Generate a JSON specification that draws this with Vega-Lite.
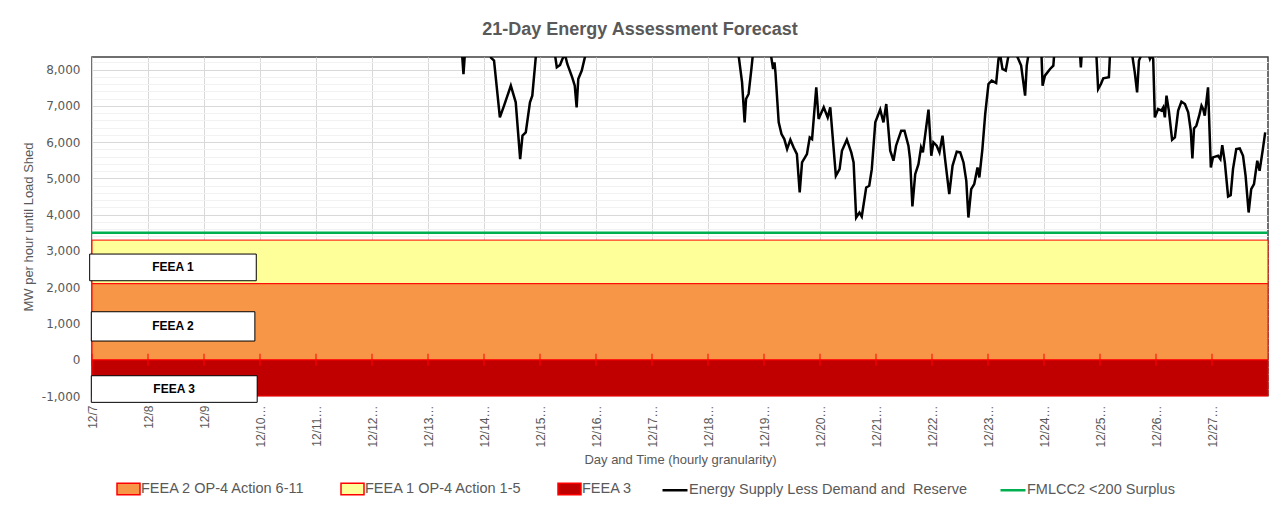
{
  "$schema": "https://vega.github.io/schema/vega-lite/v6.json",
  "autosize": "none",
  "padding": {"left": 92, "top": 57, "right": 11, "bottom": 118},
  "width": 1176,
  "height": 339,
  "background": "white",
  "title": {"text": "21-Day Energy Assessment Forecast", "fontSize": 18, "fontWeight": "bold", "color": "#595959", "font": "Liberation Sans", "anchor": "middle", "dx": -40, "offset": 17},
  "config": {"view": {"stroke": "#404040", "strokeWidth": 1.5}, "font": "Liberation Sans"},
  "datasets": {
    "bands": [
      {"zone": "FEEA 3", "start": 0, "end": 504, "low": -1000, "high": 0},
      {"zone": "FEEA 2 OP-4 Action 6-11", "start": 0, "end": 504, "low": 0, "high": 2100},
      {"zone": "FEEA 1 OP-4 Action 1-5", "start": 0, "end": 504, "low": 2100, "high": 3300}
    ],
    "dayticks": [
      {"hour": 0, "value": 0}, {"hour": 24, "value": 0}, {"hour": 48, "value": 0}, {"hour": 72, "value": 0},
      {"hour": 96, "value": 0}, {"hour": 120, "value": 0}, {"hour": 144, "value": 0}, {"hour": 168, "value": 0},
      {"hour": 192, "value": 0}, {"hour": 216, "value": 0}, {"hour": 240, "value": 0}, {"hour": 264, "value": 0},
      {"hour": 288, "value": 0}, {"hour": 312, "value": 0}, {"hour": 336, "value": 0}, {"hour": 360, "value": 0},
      {"hour": 384, "value": 0}, {"hour": 408, "value": 0}, {"hour": 432, "value": 0}, {"hour": 456, "value": 0},
      {"hour": 480, "value": 0}
    ],
    "boxes": [
      {"label": "FEEA 1", "start": -1, "end": 70.4, "low": 2179, "high": 2915, "mid_hour": 34.7, "mid_value": 2547},
      {"label": "FEEA 2", "start": -0.3, "end": 69.8, "low": 516, "high": 1324, "mid_hour": 34.7, "mid_value": 920},
      {"label": "FEEA 3", "start": -0.3, "end": 70.8, "low": -1175, "high": -441, "mid_hour": 35.2, "mid_value": -808}
    ],
    "threshold": [
      {"hour": 0, "value": 3500},
      {"hour": 504, "value": 3500}
    ],
    "supply": [
      {"hour": 0, "value": 10500}, {"hour": 24, "value": 11200}, {"hour": 48, "value": 10800}, {"hour": 72, "value": 11500},
      {"hour": 96, "value": 10900}, {"hour": 120, "value": 11300}, {"hour": 144, "value": 10200}, {"hour": 156, "value": 9500},
      {"hour": 158.2, "value": 8800}, {"hour": 159.2, "value": 7880}, {"hour": 160.2, "value": 8800}, {"hour": 164, "value": 9800},
      {"hour": 168, "value": 9600}, {"hour": 170, "value": 8900}, {"hour": 171, "value": 8330}, {"hour": 172.3, "value": 8250},
      {"hour": 174.8, "value": 6685}, {"hour": 176.6, "value": 7008}, {"hour": 179.5, "value": 7560}, {"hour": 181.6, "value": 7100},
      {"hour": 183.5, "value": 5533}, {"hour": 184.5, "value": 6180}, {"hour": 185.9, "value": 6270}, {"hour": 187.7, "value": 7100},
      {"hour": 188.7, "value": 7285}, {"hour": 190.2, "value": 8350}, {"hour": 191.5, "value": 9500}, {"hour": 195, "value": 9800},
      {"hour": 198, "value": 8600}, {"hour": 199.2, "value": 8066}, {"hour": 200.6, "value": 8130}, {"hour": 201.6, "value": 8295},
      {"hour": 202.7, "value": 8420}, {"hour": 203.7, "value": 8157}, {"hour": 205.8, "value": 7790}, {"hour": 206.9, "value": 7560},
      {"hour": 207.7, "value": 6960}, {"hour": 208.4, "value": 7740}, {"hour": 209.9, "value": 7975}, {"hour": 211.3, "value": 8360},
      {"hour": 212.5, "value": 9300}, {"hour": 220, "value": 10500}, {"hour": 240, "value": 11000}, {"hour": 260, "value": 10200},
      {"hour": 272, "value": 9800}, {"hour": 276.5, "value": 8800}, {"hour": 277, "value": 8450}, {"hour": 278.6, "value": 7650},
      {"hour": 279.7, "value": 6547}, {"hour": 280.3, "value": 7190}, {"hour": 281.4, "value": 7330}, {"hour": 282.6, "value": 8020},
      {"hour": 283.2, "value": 8400}, {"hour": 284.5, "value": 9400}, {"hour": 287, "value": 9600}, {"hour": 290.5, "value": 8600},
      {"hour": 291.9, "value": 8020}, {"hour": 292.5, "value": 8200}, {"hour": 292.9, "value": 7930}, {"hour": 294.3, "value": 6547},
      {"hour": 295.5, "value": 6225}, {"hour": 296.7, "value": 6086}, {"hour": 297.9, "value": 5810}, {"hour": 299.3, "value": 6070},
      {"hour": 300.7, "value": 5856}, {"hour": 302.1, "value": 5671}, {"hour": 303.3, "value": 4613}, {"hour": 304.3, "value": 5442},
      {"hour": 306.4, "value": 5671}, {"hour": 307.6, "value": 6133}, {"hour": 308.6, "value": 6086}, {"hour": 310.4, "value": 7514},
      {"hour": 311.4, "value": 6640}, {"hour": 313.6, "value": 6961}, {"hour": 315.3, "value": 6685}, {"hour": 316.4, "value": 6961},
      {"hour": 318.8, "value": 5074}, {"hour": 320.4, "value": 5257}, {"hour": 321.4, "value": 5765}, {"hour": 323.5, "value": 6069},
      {"hour": 325.4, "value": 5718}, {"hour": 326.4, "value": 5442}, {"hour": 327.5, "value": 3923}, {"hour": 328.9, "value": 4060},
      {"hour": 329.9, "value": 3950}, {"hour": 331.8, "value": 4751}, {"hour": 333.1, "value": 4798}, {"hour": 334.2, "value": 5257},
      {"hour": 335.7, "value": 6547}, {"hour": 337.8, "value": 6898}, {"hour": 339.2, "value": 6547}, {"hour": 340.4, "value": 7053},
      {"hour": 342.1, "value": 5765}, {"hour": 343.5, "value": 5489}, {"hour": 344.6, "value": 5903}, {"hour": 346.8, "value": 6318},
      {"hour": 348.2, "value": 6318}, {"hour": 349.9, "value": 5903}, {"hour": 350.6, "value": 5534}, {"hour": 351.6, "value": 4227},
      {"hour": 352.8, "value": 5119}, {"hour": 354.2, "value": 5396}, {"hour": 355.3, "value": 5856}, {"hour": 356.1, "value": 5718},
      {"hour": 358.5, "value": 6900}, {"hour": 359.7, "value": 5627}, {"hour": 360.6, "value": 5994}, {"hour": 362.0, "value": 5903},
      {"hour": 363.2, "value": 5718}, {"hour": 364.5, "value": 6180}, {"hour": 365.6, "value": 5533}, {"hour": 367.4, "value": 4567},
      {"hour": 368.8, "value": 5350}, {"hour": 370.6, "value": 5737}, {"hour": 372.1, "value": 5718}, {"hour": 373.5, "value": 5442},
      {"hour": 374.7, "value": 4936}, {"hour": 375.6, "value": 3923}, {"hour": 376.8, "value": 4705}, {"hour": 378.1, "value": 4843},
      {"hour": 379.5, "value": 5304}, {"hour": 380.3, "value": 5028}, {"hour": 381.6, "value": 5810}, {"hour": 382.8, "value": 6776},
      {"hour": 384.2, "value": 7605}, {"hour": 385.6, "value": 7700}, {"hour": 387.5, "value": 7633}, {"hour": 388.5, "value": 8296},
      {"hour": 389.2, "value": 8420}, {"hour": 390.2, "value": 8020}, {"hour": 391.6, "value": 7975}, {"hour": 392.8, "value": 8400},
      {"hour": 394, "value": 8700}, {"hour": 396.3, "value": 8400}, {"hour": 398.2, "value": 8113}, {"hour": 399.9, "value": 7284},
      {"hour": 400.6, "value": 8113}, {"hour": 401.3, "value": 8400}, {"hour": 403, "value": 9200}, {"hour": 406.9, "value": 8450},
      {"hour": 407.4, "value": 7560}, {"hour": 408.4, "value": 7836}, {"hour": 410.6, "value": 8020}, {"hour": 412, "value": 8113},
      {"hour": 412.4, "value": 8450}, {"hour": 414, "value": 9300}, {"hour": 420, "value": 9500}, {"hour": 423.2, "value": 8650},
      {"hour": 423.8, "value": 8066}, {"hour": 424.4, "value": 8650}, {"hour": 427, "value": 9500}, {"hour": 430.3, "value": 8600},
      {"hour": 431.2, "value": 7467}, {"hour": 432.4, "value": 7605}, {"hour": 433.4, "value": 7762}, {"hour": 435.8, "value": 7790},
      {"hour": 436.3, "value": 8450}, {"hour": 438, "value": 9400}, {"hour": 443, "value": 9300}, {"hour": 445.7, "value": 8450},
      {"hour": 446.9, "value": 7928}, {"hour": 447.9, "value": 7376}, {"hour": 448.7, "value": 8250}, {"hour": 449.8, "value": 8420},
      {"hour": 451.5, "value": 8700}, {"hour": 453.4, "value": 8296}, {"hour": 454.1, "value": 8400}, {"hour": 454.8, "value": 8296},
      {"hour": 455.5, "value": 6685}, {"hour": 456.9, "value": 6915}, {"hour": 458.3, "value": 6870}, {"hour": 459.1, "value": 6961},
      {"hour": 459.8, "value": 6685}, {"hour": 460.5, "value": 7284}, {"hour": 461.5, "value": 6870}, {"hour": 462.9, "value": 6069},
      {"hour": 464.1, "value": 6133}, {"hour": 465.5, "value": 6870}, {"hour": 466.9, "value": 7118}, {"hour": 468.4, "value": 7053},
      {"hour": 469.8, "value": 6823}, {"hour": 470.9, "value": 6318}, {"hour": 471.6, "value": 5552}, {"hour": 472.3, "value": 6381},
      {"hour": 473.3, "value": 6455}, {"hour": 474.5, "value": 6731}, {"hour": 475.5, "value": 7008}, {"hour": 476.2, "value": 6915},
      {"hour": 476.9, "value": 6731}, {"hour": 478.3, "value": 7514}, {"hour": 479.5, "value": 5304}, {"hour": 480.4, "value": 5580},
      {"hour": 482.6, "value": 5627}, {"hour": 483.6, "value": 5533}, {"hour": 484.4, "value": 5920}, {"hour": 485.5, "value": 5442},
      {"hour": 486.9, "value": 4503}, {"hour": 488.0, "value": 4539}, {"hour": 489.0, "value": 5257}, {"hour": 490.4, "value": 5810},
      {"hour": 491.9, "value": 5829}, {"hour": 493.3, "value": 5627}, {"hour": 494.4, "value": 5074}, {"hour": 495.7, "value": 4061},
      {"hour": 496.8, "value": 4705}, {"hour": 498.0, "value": 4843}, {"hour": 499.4, "value": 5489}, {"hour": 500.4, "value": 5212},
      {"hour": 501.8, "value": 5810}, {"hour": 502.8, "value": 6271}
    ]
  },
  "layer": [
    {
      "data": {"name": "bands"},
      "mark": {"type": "rect", "stroke": "#FF0000", "strokeWidth": 1},
      "encoding": {
        "x": {
          "field": "start", "type": "quantitative", "title": "Day and Time (hourly granularity)",
          "scale": {"domain": [0, 504], "nice": false, "zero": false},
          "axis": {
            "values": [0, 24, 48, 72, 96, 120, 144, 168, 192, 216, 240, 264, 288, 312, 336, 360, 384, 408, 432, 456, 480],
            "tickCount": 100,
            "labelExpr": "'12/' + (7 + datum.value / 24) + (datum.value >= 72 ? '…' : '')",
            "labelAngle": 270, "labelFontSize": 12, "labelColor": "#595959", "labelFont": "Liberation Sans",
            "labelPadding": 9, "labelOverlap": false, "ticks": false, "domain": false, "grid": true, "gridColor": "#d9d9d9",
            "titleFontSize": 13, "titleFontWeight": "normal", "titleColor": "#595959", "titlePadding": 6, "titleFont": "Liberation Sans"
          }
        },
        "x2": {"field": "end"},
        "y": {
          "field": "low", "type": "quantitative", "title": "MW per hour until Load Shed",
          "scale": {"domain": [-1000, 8350], "nice": false, "zero": false},
          "axis": {
            "values": [-1000, -800, -600, -400, -200, 0, 200, 400, 600, 800, 1000, 1200, 1400, 1600, 1800, 2000, 2200, 2400, 2600, 2800, 3000, 3200, 3400, 3600, 3800, 4000, 4200, 4400, 4600, 4800, 5000, 5200, 5400, 5600, 5800, 6000, 6200, 6400, 6600, 6800, 7000, 7200, 7400, 7600, 7800, 8000, 8200],
            "tickCount": 100,
            "labelExpr": "datum.value % 1000 === 0 ? (datum.value < 0 ? '-' + format(-datum.value, ',') : format(datum.value, ',')) : ''",
            "labelOverlap": false, "ticks": false, "domain": false, "grid": true,
            "gridColor": {"condition": {"test": "datum.value % 1000 === 0", "value": "#d9d9d9"}, "value": "#f2f2f2"},
            "labelFont": "DejaVu Sans", "labelFontSize": 12, "labelColor": "#595959", "labelPadding": 12,
            "titleFontSize": 13, "titleFontWeight": "normal", "titleColor": "#595959", "titlePadding": 6, "titleFont": "Liberation Sans"
          }
        },
        "y2": {"field": "high"},
        "fill": {
          "field": "zone", "type": "nominal",
          "scale": {"domain": ["FEEA 2 OP-4 Action 6-11", "FEEA 1 OP-4 Action 1-5", "FEEA 3"], "range": ["#F79646", "#FFFF99", "#C00000"]},
          "legend": {
            "title": null, "orient": "none", "legendX": 24, "legendY": 419, "direction": "horizontal",
            "symbolType": "M-1,-0.5H1V0.5H-1Z", "symbolSize": 529, "symbolStrokeColor": "#FF0000", "symbolStrokeWidth": 1.5,
            "labelFontSize": 14.5, "labelColor": "#595959", "labelFont": "Liberation Sans", "columnPadding": 32, "labelOffset": 0, "labelLimit": 400
          }
        }
      }
    },
    {
      "data": {"name": "dayticks"},
      "mark": {"type": "tick", "orient": "vertical", "color": "#FF0000", "size": 12, "thickness": 1, "opacity": 1},
      "encoding": {
        "x": {"field": "hour", "type": "quantitative", "title": "Day and Time (hourly granularity)"},
        "y": {"field": "value", "type": "quantitative", "title": "MW per hour until Load Shed"}
      }
    },
    {
      "data": {"name": "threshold"},
      "mark": {"type": "line", "strokeWidth": 2.5},
      "encoding": {
        "x": {"field": "hour", "type": "quantitative", "title": "Day and Time (hourly granularity)"},
        "y": {"field": "value", "type": "quantitative", "title": "MW per hour until Load Shed"},
        "stroke": {
          "datum": "FMLCC2 <200 Surplus",
          "scale": {"domain": ["Energy Supply Less Demand and\u00a0 Reserve", "FMLCC2 <200 Surplus"], "range": ["#000000", "#00B050"]},
          "legend": {
            "title": null, "orient": "none", "legendX": 569, "legendY": 419, "direction": "horizontal",
            "symbolType": "stroke", "symbolSize": 625, "symbolStrokeWidth": 2.5,
            "labelFontSize": 14.5, "labelColor": "#595959", "labelFont": "Liberation Sans", "columnPadding": 27, "labelOffset": 0, "labelLimit": 400
          }
        }
      }
    },
    {
      "data": {"name": "supply"},
      "mark": {"type": "line", "strokeWidth": 2.5, "clip": true},
      "encoding": {
        "x": {"field": "hour", "type": "quantitative", "title": "Day and Time (hourly granularity)"},
        "y": {"field": "value", "type": "quantitative", "title": "MW per hour until Load Shed"},
        "stroke": {"datum": "Energy Supply Less Demand and\u00a0 Reserve"}
      }
    },
    {
      "data": {"name": "boxes"},
      "mark": {"type": "rect", "fill": "white", "stroke": "black", "strokeWidth": 1},
      "encoding": {
        "x": {"field": "start", "type": "quantitative", "title": "Day and Time (hourly granularity)"},
        "x2": {"field": "end"},
        "y": {"field": "low", "type": "quantitative", "title": "MW per hour until Load Shed"},
        "y2": {"field": "high"}
      }
    },
    {
      "data": {"name": "boxes"},
      "mark": {"type": "text", "fontWeight": "bold", "fontSize": 12, "color": "black", "font": "Liberation Sans"},
      "encoding": {
        "x": {"field": "mid_hour", "type": "quantitative", "title": "Day and Time (hourly granularity)"},
        "y": {"field": "mid_value", "type": "quantitative", "title": "MW per hour until Load Shed"},
        "text": {"field": "label"}
      }
    }
  ]
}
